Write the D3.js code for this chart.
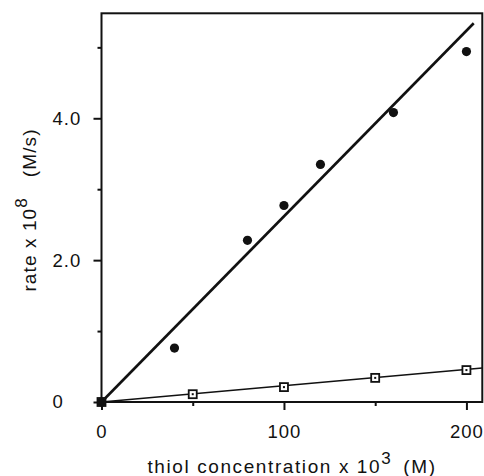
<!DOCTYPE html>
<html>
<head>
<meta charset="utf-8">
<script src="https://cdn.jsdelivr.net/npm/d3@7"></script>
<style>
body { margin: 0; background: #fff; }
text { font-family: "Liberation Sans", Arial, Helvetica, sans-serif; fill: #111; }
</style>
</head>
<body>
<div class="chart"></div>
<script>
// thiol concentration x 10^3 (M)
var fastX = [0, 40, 80, 100, 120, 160, 200];
var fastY = [0, 0.76, 2.28, 2.77, 3.35, 4.08, 4.94];

var slowX = [0, 50, 100, 150, 200];
var slowY = [0, 0.11, 0.21, 0.34, 0.45];

// fitted lines, end points
var fastFitX = [0, 204];
var fastFitY = [0, 5.34];
var slowFitX = [0, 208.7];
var slowFitY = [0, 0.48];

var xMajor = [0, 100, 200];
var xMinor = [50, 150];
var yMajor = [0, 2, 4];
var yMinor = [1, 3, 5];

var width = 484, height = 476;

var x = d3.scaleLinear()
.domain([0, 208.7])
.range([101.5, 482.3])
;

var y = d3.scaleLinear()
.domain([0, 5.48])
.range([402, 13.3])
;

var svg = d3
.select('div.chart')
.append('svg')
.attr('width', width)
.attr('height', height)
;

// y axis
var yAxis = svg.append('g')
.attr('transform', 'translate(' + x(0) + ',0)')
.call(d3.axisLeft(y).tickValues(yMajor).tickSize(8).tickPadding(4)
    .tickFormat(function(d){ return d === 0 ? '0' : d3.format('.1f')(d); }))
;
yAxis.selectAll('text')
.attr('text-anchor', 'start')
.attr('x', -49)
.style('font-size', '18.5px')
.style('letter-spacing', '1px')
;
svg.append('g')
.attr('transform', 'translate(' + x(0) + ',0)')
.call(d3.axisLeft(y).tickValues(yMinor).tickSize(4).tickFormat(''))
;

// x axis
var xAxis = svg.append('g')
.attr('transform', 'translate(0,' + y(0) + ')')
.call(d3.axisBottom(x).tickValues(xMajor).tickSize(8).tickPadding(15).tickFormat(d3.format('d')))
;
xAxis.selectAll('text')
.style('font-size', '18.5px')
.style('letter-spacing', '1px')
;
svg.append('g')
.attr('transform', 'translate(0,' + y(0) + ')')
.call(d3.axisBottom(x).tickValues(xMinor).tickSize(4).tickFormat(''))
;

svg.selectAll('.domain').remove();
svg.selectAll('.tick line').attr('stroke', '#111').attr('stroke-width', 2);

// frame
svg.append('rect')
.attr('x', x(0))
.attr('y', y(5.48))
.attr('width', x(208.7) - x(0))
.attr('height', y(0) - y(5.48))
.attr('fill', 'none')
.attr('stroke', '#111')
.attr('stroke-width', 2)
;

var line = d3.line()
.x(function(d){ return x(d[0]); })
.y(function(d){ return y(d[1]); })
;

svg.append('path')
.datum(d3.zip(fastFitX, fastFitY))
.attr('d', line)
.attr('fill', 'none')
.attr('stroke', '#111')
.attr('stroke-width', 2.6)
;

svg.append('path')
.datum(d3.zip(slowFitX, slowFitY))
.attr('d', line)
.attr('fill', 'none')
.attr('stroke', '#111')
.attr('stroke-width', 1.6)
;

// open squares
var sq = svg.selectAll('.sq')
.data(d3.zip(slowX, slowY))
.enter()
.append('g')
.attr('class', 'sq')
.attr('transform', function(d){ return 'translate(' + x(d[0]) + ',' + y(d[1]) + ')'; })
;
sq.append('rect')
.attr('x', -4).attr('y', -4)
.attr('width', 8).attr('height', 8)
.attr('fill', '#fff')
.attr('stroke', '#111')
.attr('stroke-width', 1.8)
;
sq.append('rect')
.attr('x', -1).attr('y', -1)
.attr('width', 2).attr('height', 2)
.attr('fill', '#111')
;

// filled dots
svg.selectAll('.dot')
.data(d3.zip(fastX, fastY))
.enter()
.append('circle')
.attr('class', 'dot')
.attr('cx', function(d){ return x(d[0]); })
.attr('cy', function(d){ return y(d[1]); })
.attr('r', 4.6)
.attr('fill', '#111')
;

// axis titles
var xt = svg.append('text')
.attr('x', 292)
.attr('y', 473)
.attr('text-anchor', 'middle')
.style('font-size', '19px')
.style('letter-spacing', '1.6px')
;
xt.append('tspan').text('thiol concentration x 10');
xt.append('tspan').attr('dy', -9).style('font-size', '17px').text('3');
xt.append('tspan').attr('dy', 9).attr('dx', 11).text('(M)');

var yt = svg.append('text')
.attr('transform', 'translate(36,210) rotate(-90)')
.attr('text-anchor', 'middle')
.style('font-size', '19px')
.style('letter-spacing', '1.1px')
;
yt.append('tspan').text('rate x 10');
yt.append('tspan').attr('dy', -9).style('font-size', '17px').text('8');
yt.append('tspan').attr('dy', 9).attr('dx', 20).text('(M/s)');
</script>
</body>
</html>
